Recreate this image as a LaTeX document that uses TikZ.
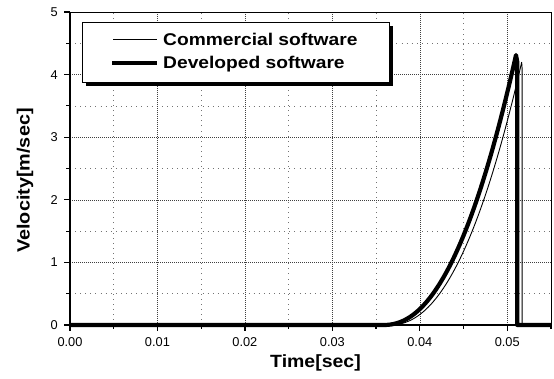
\documentclass[tikz,border=0pt]{standalone}
\usepackage{fontspec}
\setmainfont{Liberation Sans}
\begin{document}
\begin{tikzpicture}[x=8.745pt,y=62.6pt,
  ticklab/.style={font=\fontsize{12.8}{14}\selectfont, inner sep=0pt},
  axtitle/.style={font=\fontsize{17.7}{20}\selectfont\bfseries, inner sep=0pt},
  leglab/.style={font=\fontsize{17}{20}\selectfont\bfseries, inner sep=0pt, anchor=base west},
  majgrid/.style={black!75, line width=0.6pt, dash pattern=on 0.6pt off 1.4pt},
  mingrid/.style={black!55, line width=0.6pt, dash pattern=on 0.6pt off 4.5pt},
  thincurve/.style={line width=0.9pt, line join=round},
  thickcurve/.style={line width=4.2pt, line join=round}
]
\useasboundingbox (-70pt,-53pt) rectangle (484pt,325pt);

% grid
\foreach \x in {5,15,25,35,45} \draw[mingrid] (\x,0) -- (\x,5);
\foreach \y in {0.5,1.5,2.5,3.5,4.5} \draw[mingrid] (0,\y) -- (55,\y);
\foreach \x in {10,20,30,40,50} \draw[majgrid] (\x,0) -- (\x,5);
\foreach \y in {1,2,3,4} \draw[majgrid] (0,\y) -- (55,\y);

% frame
\draw[line width=0.8pt] (0,5) -- (55,5) -- (55,0);
\draw[line width=2.2pt] (0,5) -- (0,0) -- (55,0);

% ticks
\foreach \x in {0,10,20,30,40,50} \draw[line width=1.2pt] (\x,0) -- ++(0,-5.5pt);
\foreach \x in {5,15,25,35,45,55} \draw[line width=1.2pt] (\x,0) -- ++(0,-3.5pt);
\foreach \y in {0,1,2,3,4,5} \draw[line width=1.2pt] (0,\y) -- ++(-5.5pt,0);
\foreach \y in {0.5,1.5,2.5,3.5,4.5} \draw[line width=1.2pt] (0,\y) -- ++(-3.5pt,0);

% tick labels
\foreach \y in {0,1,2,3,4,5}
  \node[ticklab, anchor=east] (yl\y) at ([xshift=-12pt]0,\y) {\y};
\foreach \x/\lab in {0/0.00,10/0.01,20/0.02,30/0.03,40/0.04,50/0.05}
  \node[ticklab] (xl\x) at ([yshift=-17pt]\x,0) {\lab};

% axis titles
\node[axtitle] (xt) at (245.5pt,-37.5pt) {\scalebox{1.1}[1]{Time[sec]}};
\node[axtitle, rotate=90] (yt) at (-45pt,144.5pt) {\scalebox{1.12}[1]{Velocity[m/sec]}};

% curves
\draw[thincurve] (0,0) -- (36.5,0) -- plot[domain=36.55:51.65, samples=70] (\x,{0.01062*(\x-36.5)^2.2})
  -- (51.7,4.1) -- (51.7,0) -- (55,0);
\draw[thickcurve] (0,0) -- (35.8,0) -- plot[domain=35.85:51.0, samples=70] (\x,{0.01083*(\x-35.8)^2.2})
  -- (51.15,4.2) -- (51.15,0) -- (55,0);

% legend
\fill (16pt,239pt) rectangle (323pt,299pt);
\draw[fill=white, line width=0.8pt] (12pt,243pt) rectangle (319pt,303pt);
\draw[thincurve] (43pt,285.5pt) -- (87pt,285.5pt);
\draw[line width=4pt] (42pt,262pt) -- (87pt,262pt);
\node[leglab] (l1) at (93pt,279.3pt) {\scalebox{1.13}[1]{Commercial software}};
\node[leglab] (l2) at (93pt,256.7pt) {\scalebox{1.13}[1]{Developed software}};
\end{tikzpicture}
\end{document}
